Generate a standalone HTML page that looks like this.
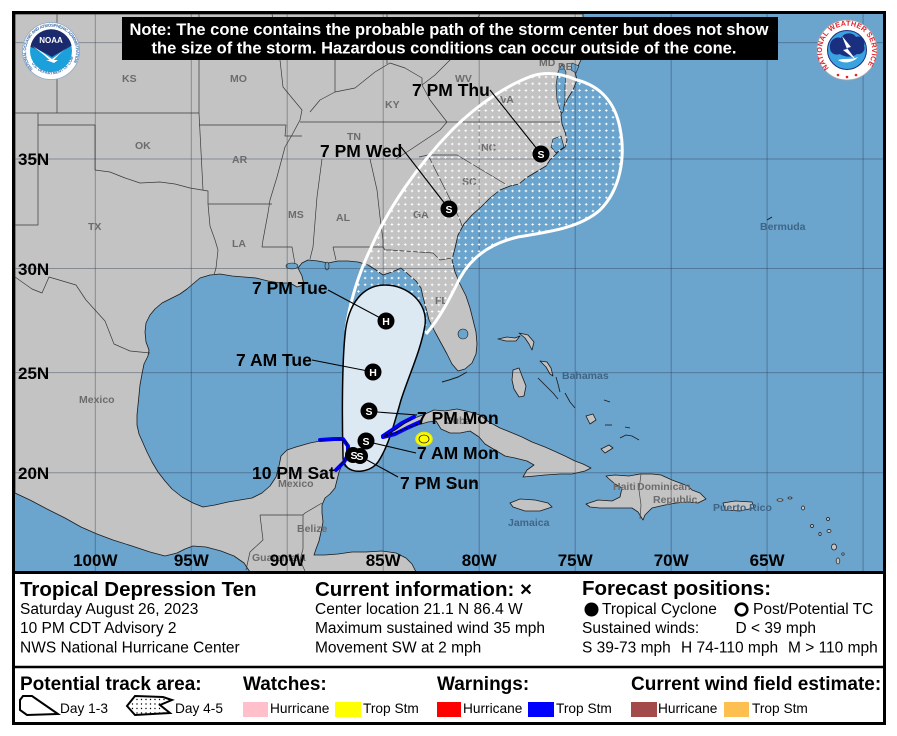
<!DOCTYPE html>
<html><head><meta charset="utf-8"><style>
html,body{margin:0;padding:0;background:#fff;}
svg{display:block;}
text{font-family:"Liberation Sans",Arial,sans-serif;}
</style></head><body>
<svg width="897" height="736" viewBox="0 0 897 736" xmlns="http://www.w3.org/2000/svg">
<defs>
<clipPath id="mapclip"><rect x="15" y="14" width="868" height="557"/></clipPath>
<pattern id="dots" width="6.7" height="6.7" patternUnits="userSpaceOnUse">
<path d="M3.35 2.1v2.5M2.1 3.35h2.5" stroke="#fff" stroke-width="0.9"/>
</pattern>
<pattern id="ldots" width="4.5" height="4.5" patternUnits="userSpaceOnUse">
<circle cx="2" cy="2" r="0.7" fill="#000"/>
</pattern>
</defs>
<rect width="897" height="736" fill="#fff"/>
<g clip-path="url(#mapclip)">
<rect x="15" y="14" width="868" height="557" fill="#6ba4cd"/>
<!-- North America -->
<path fill="#c3c3c3" stroke="#1a1a1a" stroke-width="0.8" stroke-linejoin="round" d="M15,14 L583,14 L583,30 L581,45 L582,58 L578,66 L575,72 L577,80 L573,90 L568,98 L563,108 L561,115 L562,124 L565,132 L567,140 L565,147 L558,152 L550,160 L546,166 L536,172 L526,178 L519,184 L510,186 L500,190 L490,198 L481,207 L472,215 L464,224 L458,235 L455,248 L452,260 L455,272 L460,284 L466,296 L470,308 L473,320 L476,332 L477,344 L476,354 L472,363 L465,369 L458,371 L452,364 L447,354 L441,343 L435,332 L429,320 L426,308 L423,297 L421,288 L416,281 L408,274 L401,268 L392,272 L383,275 L376,270 L368,265 L358,262 L348,261 L338,261 L328,263 L318,261 L308,260 L302,263 L298,268 L302,276 L304,285 L297,287 L290,283 L280,283 L268,281 L256,278 L244,277 L232,276 L220,274 L210,275 L200,278 L194,283 L187,289 L180,294 L170,299 L162,303 L155,309 L150,315 L146,323 L145,332 L146,342 L149,350 L148,356 L144,364 L142,374 L140,385 L139,395 L138,405 L137,415 L137,425 L139,434 L143,443 L147,452 L152,462 L158,472 L165,481 L172,489 L182,497 L193,503 L203,507 L215,505 L228,502 L240,500 L252,498 L262,493 L270,486 L276,477 L279,466 L281,456 L287,450 L296,447 L310,443 L325,440 L340,439 L346,442 L350,450 L347,458 L342,465 L339,472 L337,480 L335,488 L330,494 L325,498 L322,505 L322,513 L323,522 L321,532 L319,541 L316,549 L314,555 L325,555 L338,554 L352,552 L366,552 L382,551 L396,553 L406,558 L412,564 L416,572 L250,572 L244,563 L234,556 L221,551 L206,547 L193,546 L185,549 L177,553 L165,556 L150,552 L132,546 L113,540 L97,534 L81,527 L65,518 L47,509 L30,500 L15,493 Z"/>
<!-- bays/lakes -->
<g fill="#6ba4cd" stroke="#1a1a1a" stroke-width="0.6">
<path d="M561,113 L557,100 L556,86 L558,72 L562,64 L566,72 L565,86 L565,100 L563,112 Z"/>
<path d="M572,63 L579,66 L576,73 L571,70 Z"/>
<path d="M553,139 L561,136 L564,147 L556,153 L551,147 Z"/>
<ellipse cx="463" cy="334" rx="5" ry="5"/>
<ellipse cx="292" cy="266" rx="6" ry="3"/>
<ellipse cx="327" cy="266" rx="2" ry="4"/>
</g>
<!-- Florida keys -->
<path d="M467,372 L458,377 L449,380 L442,382" fill="none" stroke="#1a1a1a" stroke-width="1"/>
<ellipse cx="346" cy="463" rx="2" ry="4" fill="#c3c3c3" stroke="#1a1a1a" stroke-width="0.6"/>
<!-- Cuba -->
<path fill="#c3c3c3" stroke="#1a1a1a" stroke-width="0.8" stroke-linejoin="round" d="M384,436 L395,430 L405,423 L412,419 L425,414 L434,410 L445,411 L457,409 L470,412 L480,415 L489,422 L500,428 L510,432 L522,437 L532,442 L545,447 L554,451 L565,456 L575,461 L583,464 L591,468 L585,471 L572,474 L560,474 L545,475 L535,476 L523,477 L527,470 L534,465 L527,461 L515,458 L505,456 L495,450 L485,444 L479,437 L470,431 L460,433 L450,433 L441,429 L436,421 L428,422 L418,425 L405,430 L393,435 Z"/>
<!-- Hispaniola -->
<path fill="#c3c3c3" stroke="#1a1a1a" stroke-width="0.8" stroke-linejoin="round" d="M586,504 L598,500 L612,501 L620,497 L622,488 L615,484 L608,478 L606,476 L615,475 L629,476 L640,474 L652,474 L661,475 L672,480 L688,486 L692,490 L700,493 L706,499 L698,503 L688,502 L676,503 L665,505 L652,508 L645,515 L643,520 L638,512 L632,508 L623,508 L612,508 L600,508 L590,507 Z"/>
<path d="M641,474 L639,490 L641,505 L640,519" fill="none" stroke="#444" stroke-width="0.7"/>
<!-- Jamaica -->
<path fill="#c3c3c3" stroke="#1a1a1a" stroke-width="0.8" d="M510,503 L520,499 L535,500 L548,503 L552,507 L540,511 L525,511 L513,507 Z"/>
<!-- Puerto Rico -->
<path fill="#c3c3c3" stroke="#1a1a1a" stroke-width="0.8" d="M723,503 L735,501 L752,502 L754,508 L740,511 L725,510 Z"/>
<!-- Bahamas -->
<g fill="#c3c3c3" stroke="#1a1a1a" stroke-width="0.8" stroke-linejoin="round">
<path d="M498,339 L507,337 L515,338 L520,336 L516,341 L506,341 Z"/>
<path d="M519,333 L528,335 L534,342 L532,350 L529,344 L525,338 Z"/>
<path d="M513,370 L519,368 L522,376 L526,386 L524,396 L519,397 L514,389 L512,380 Z"/>
<path d="M540,361 L547,362 L551,368 L553,376 L550,374 L546,367 Z"/>
<path d="M586,416 L593,414 L596,420 L590,424 Z"/>
<path d="M601,449 L609,445 L613,448 L605,453 Z"/>
<path d="M538,378 L546,386 L553,393 L558,399" fill="none"/>
<path d="M556,377 L558,384 L560,392" fill="none"/>
<path d="M565,393 L570,402 L575,408" fill="none"/>
<path d="M605,425 L612,425" fill="none"/>
<path d="M620,438 L626,435 L632,436 L639,440" fill="none"/>
<path d="M604,400 L610,402" fill="none"/>
<path d="M625,427 L630,428" fill="none"/>
</g>
<g fill="#c3c3c3" stroke="#1a1a1a" stroke-width="0.7">
<ellipse cx="780" cy="500" rx="3" ry="1.2"/><ellipse cx="790" cy="498" rx="2" ry="1"/>
<ellipse cx="803" cy="508" rx="1.5" ry="2"/><ellipse cx="812" cy="526" rx="1.5" ry="1.5"/>
<ellipse cx="820" cy="534" rx="1.2" ry="1.5"/><ellipse cx="828" cy="519" rx="1.5" ry="1.5"/>
<ellipse cx="829" cy="531" rx="2" ry="1.5"/><ellipse cx="834" cy="547" rx="2.5" ry="3"/>
<ellipse cx="838" cy="561" rx="1.8" ry="3"/><ellipse cx="843" cy="554" rx="1.2" ry="1.2"/>
<ellipse cx="454" cy="486" rx="2" ry="0.8"/><ellipse cx="474" cy="482" rx="1.5" ry="0.7"/>
</g>
<path d="M767,220 L772,217" stroke="#1a1a1a" stroke-width="1"/>
<!-- state / national borders -->
<g fill="none" stroke="#3a3a3a" stroke-width="0.7" stroke-linejoin="round">
<path d="M57,14 L57,113 M15,113 L199,113 M38,113 L38,225 L15,225 M38,125 L95,125 L95,170"/>
<path d="M95,170 L110,172 L125,178 L140,183 L160,182 L175,184 L190,188 L208,191 L208,204 L210,226 L215,240 L218,250 L216,268 L214,275"/>
<path d="M199,14 L199,113 L203,190 M208,204 L272,204"/>
<path d="M199,125 L286,125 L285,136 L302,136"/>
<path d="M272,14 L280,60 L283,87 L302,110 L300,120 L292,135 L285,147 L277,177 L270,200 L268,213 L263,240 L262,247 L292,247 L295,264"/>
<path d="M300,122 L447,122 L560,122"/>
<path d="M396,159 L410,150 L425,140 L440,130 L447,122 L440,113 L430,100 L422,85"/>
<path d="M310,112 L320,100 L335,92 L355,88 L375,72 L390,63 L405,68 L422,78 L422,85"/>
<path d="M335,14 L335,92 M387,14 L387,64"/>
<path d="M480,14 L470,30 L460,45 L450,60 L435,75 L422,85 M500,30 L520,40 L545,55"/>
<path d="M419,157 L428,155 L457,155 L477,167 L507,185"/>
<path d="M428,155 L437,173 L447,193 L460,220 L462,226"/>
<path d="M370,159 L377,190 L380,217 L383,240 L383,247 L385,250 L390,250 L433,253 L440,260 L452,258"/>
<path d="M322,159 L317,197 L313,247 L310,259 M333,247 L383,247 M333,247 L336,260"/>
<path d="M15,277 L32,289 L42,293 L49,277 L76,285 L86,300 L105,321 L114,344 L130,351 L150,353"/>
<path d="M260,515 L303,515 L303,549 M260,515 L263,540 L250,552 L246,570 M303,515 L305,513 L322,503 M303,549 L300,560 L305,571"/>
</g>
<!-- grid -->
<g stroke="#28384a" stroke-opacity="0.4" stroke-width="1">
<path d="M95.3,14V571M191.3,14V571M287.2,14V571M383.2,14V571M479.2,14V571M575.2,14V571M671.2,14V571M767.1,14V571M863.1,14V571"/>
<path d="M15,42.6H883M15,159H883M15,268.5H883M15,372.6H883M15,472.7H883"/>
</g>
<!-- place labels -->
<g font-size="10.5" font-weight="bold" fill="#6c6c6c">
<text x="122" y="82">KS</text><text x="230" y="82">MO</text><text x="135" y="149">OK</text>
<text x="232" y="163">AR</text><text x="88" y="230">TX</text><text x="232" y="247">LA</text>
<text x="288" y="218">MS</text><text x="336" y="221">AL</text><text x="413" y="218">GA</text>
<text x="347" y="140">TN</text><text x="385" y="108">KY</text><text x="455" y="82">WV</text>
<text x="500" y="103">VA</text><text x="481" y="151">NC</text><text x="462" y="185">SC</text>
<text x="435" y="304">FL</text><text x="539" y="66">MD</text><text x="558" y="70">DE</text>
<text x="79" y="403">Mexico</text><text x="278" y="487">Mexico</text><text x="297" y="532">Belize</text>
<text x="252" y="561">Guatemala</text><text x="445" y="424">Cuba</text>
<text x="613" y="490">Haiti</text><text x="637" y="490">Dominican</text><text x="653" y="503">Republic</text>
</g>
<g font-size="10.5" font-weight="bold" fill="#3f6586">
<text x="562" y="379">Bahamas</text><text x="760" y="230">Bermuda</text><text x="508" y="526">Jamaica</text>
<text x="713" y="511">Puerto Rico</text>
</g>
<!-- Day 4-5 cone -->
<path fill="url(#dots)" d="M346,330 C349,305 358,275 370,250 C388,208 418,165 452,130 C480,102 510,84 532,76 C548,71 563,74 577,80 C600,86 615,102 620,128 C626,158 620,190 600,210 C580,228 548,232 518,237 C492,243 472,256 460,278 C450,298 440,318 426,334 Z"/>
<path fill="none" stroke="#fff" stroke-width="3" d="M346,330 C349,305 358,275 370,250 C388,208 418,165 452,130 C480,102 510,84 532,76 C548,71 563,74 577,80 C600,86 615,102 620,128 C626,158 620,190 600,210 C580,228 548,232 518,237 C492,243 472,256 460,278 C450,298 440,318 426,334"/>
<!-- Day 1-3 cone -->
<path fill="#dce9f3" stroke="#000" stroke-width="1.5" d="M343,455 C342,420 342,365 345,335 C348,302 364,285 385,285 C408,285 428,303 425,325 C421,350 409,375 401,400 C394,425 388,447 378,462 C370,473 352,474 346,466 C343,462 343,459 343,455 Z"/>
<!-- warnings -->
<g fill="none" stroke="#0000ff" stroke-width="4" stroke-linejoin="round" stroke-linecap="round">
<path d="M320,440 L334,439 L343,439 L348,446 L348,455 L344,462 L336,470"/>
<path d="M383,436 L392,430 L402,423 L414,417"/>
<path d="M383,437 L395,434 L407,428 L420,422"/>
</g>
<path d="M320,440 L340,439 L346,442 L349,450 L346,458 L340,466" fill="none" stroke="#000" stroke-width="0.8"/>
<path d="M384,436 L395,430 L405,423 L412,419 M384,437 L395,433 L407,428 L418,424" fill="none" stroke="#000" stroke-width="0.8"/>
<ellipse cx="424" cy="439" rx="8" ry="6.5" fill="#ffff00" stroke="#f0f000" stroke-width="1.5"/>
<ellipse cx="424" cy="439" rx="5" ry="4" fill="none" stroke="#222" stroke-width="0.8"/>
<!-- leader lines -->
<g stroke="#000" stroke-width="1.1" fill="none">
<path d="M490,90 L541,154"/><path d="M401,147 L449,209"/>
<path d="M328,290 L386,321"/><path d="M312,360 L373,372"/>
<path d="M377,412 L417,415"/><path d="M373,443 L416,453"/>
<path d="M367,460 L398,477"/>
</g>
<!-- markers -->
<g fill="#000">
<circle cx="541" cy="154" r="8.5"/><circle cx="449" cy="209" r="8.5"/>
<circle cx="386" cy="321" r="8.5"/><circle cx="373" cy="372" r="8.5"/>
<circle cx="369" cy="411" r="8.5"/><circle cx="366" cy="441" r="8.5"/>
<circle cx="353" cy="455" r="8"/><circle cx="360" cy="456" r="8"/>
</g>
<g fill="#fff" font-size="10.5" font-weight="bold" text-anchor="middle">
<text x="541" y="158">S</text><text x="449" y="213">S</text>
<text x="386" y="325">H</text><text x="373" y="376">H</text>
<text x="369" y="415">S</text><text x="366" y="445">S</text>
<text x="354" y="459">S</text><text x="360" y="460">S</text>
</g>
<!-- forecast labels -->
<g font-size="17.5" font-weight="bold" fill="#000">
<text x="412" y="96">7 PM Thu</text>
<text x="320" y="157">7 PM Wed</text>
<text x="252" y="294">7 PM Tue</text>
<text x="236" y="366">7 AM Tue</text>
<text x="417" y="424">7 PM Mon</text>
<text x="417" y="459">7 AM Mon</text>
<text x="400" y="489">7 PM Sun</text>
<text x="252" y="479">10 PM Sat</text>
</g>
<!-- lat/lon labels -->
<g font-size="17" font-weight="bold" fill="#000">
<text x="18" y="165">35N</text><text x="18" y="275">30N</text>
<text x="18" y="379">25N</text><text x="18" y="479">20N</text>
</g>
<g font-size="17" font-weight="bold" fill="#000" text-anchor="middle">
<text x="95.3" y="566">100W</text><text x="191.3" y="566">95W</text><text x="287.2" y="566">90W</text>
<text x="383.2" y="566">85W</text><text x="479.2" y="566">80W</text><text x="575.2" y="566">75W</text>
<text x="671.2" y="566">70W</text><text x="767.1" y="566">65W</text>
</g>
</g>
<!-- note box -->
<rect x="122" y="17" width="656" height="43" fill="#000"/>
<g font-size="16.5" font-weight="bold" fill="#fff" text-anchor="middle">
<text x="449" y="35">Note: The cone contains the probable path of the storm center but does not show</text>
<text x="444" y="53.5">the size of the storm. Hazardous conditions can occur outside of the cone.</text>
</g>
<!-- NOAA logo -->
<g>
<circle cx="51" cy="51" r="28.5" fill="#fff" stroke="#8fa8c8" stroke-width="0.8"/>
<path id="noaaring" d="M33,69 A25,25 0 1 1 69,69" fill="none"/>
<text font-size="4.2" font-weight="bold" fill="#3d6ea8"><textPath href="#noaaring" textLength="108" lengthAdjust="spacing">NATIONAL OCEANIC AND ATMOSPHERIC ADMINISTRATION</textPath></text>
<path id="noaaring2" d="M29,58 A23,23 0 0 0 73,58" fill="none"/>
<text font-size="4" font-weight="bold" fill="#3d6ea8"><textPath href="#noaaring2" startOffset="6">U.S. DEPARTMENT OF COMMERCE</textPath></text>
<circle cx="51" cy="51" r="21" fill="#1ca0dc"/>
<path d="M30.4,47 A21,21 0 0 1 71.6,45.5 C65,50 58,53 52,57 C45,53 38,49 30.4,47 Z" fill="#1b2a6d"/>
<path d="M32,46 C40,50 46,55 52,59 C58,55 64,50 70,44 C64,50 58,55 52,62 C46,57 40,51 32,46 Z" fill="#fff"/>
<path d="M46,60 L58,60 L54,63 Z" fill="#fff"/>
<text x="51" y="43" font-size="8" font-weight="bold" fill="#fff" text-anchor="middle">NOAA</text>
</g>
<!-- NWS logo -->
<g>
<circle cx="847" cy="50" r="30" fill="#fff" stroke="#aaa" stroke-width="0.8"/>
<path id="nwsring" d="M829,68 A25,25 0 1 1 865,68" fill="none"/>
<text font-size="7.2" font-weight="bold" fill="#e4222c"><textPath href="#nwsring" textLength="112" lengthAdjust="spacing">NATIONAL WEATHER SERVICE</textPath></text>
<circle cx="847" cy="50" r="19.5" fill="#3aa3df" stroke="#1b2f80" stroke-width="1"/>
<path d="M830,48 C829,40 836,36 841,38 C844,32 853,32 856,37 C861,35 866,40 864,46 C866,50 862,55 857,54 C852,58 844,57 840,54 C835,56 830,53 830,48 Z" fill="#1b2f80"/>
<path d="M838,60 C845,58 852,60 858,57 C853,63 843,64 838,60 Z" fill="#fff"/>
<path d="M842,36 L851,47 L847,48 L856,60 L843,50 L847,49 Z" fill="#fff"/>
<g fill="#e4222c"><circle cx="838" cy="75" r="1.3"/><circle cx="847" cy="77" r="1.3"/><circle cx="856" cy="75" r="1.3"/></g>
</g>
<!-- frame -->
<rect x="13.5" y="12.5" width="871" height="711" fill="none" stroke="#000" stroke-width="3"/>
<line x1="12" y1="572.5" x2="886" y2="572.5" stroke="#000" stroke-width="3"/>
<line x1="12" y1="667" x2="886" y2="667" stroke="#000" stroke-width="2.5"/>
<!-- info panel -->
<g fill="#000">
<text x="20" y="596" font-size="20.5" font-weight="bold">Tropical Depression Ten</text>
<text x="20" y="614" font-size="15.5">Saturday August 26, 2023</text>
<text x="20" y="633" font-size="15.5">10 PM CDT Advisory 2</text>
<text x="20" y="652.5" font-size="15.5">NWS National Hurricane Center</text>
<text x="315" y="596" font-size="20.5" font-weight="bold">Current information: ×</text>
<text x="315" y="614" font-size="15.5">Center location 21.1 N 86.4 W</text>
<text x="315" y="633" font-size="15.5">Maximum sustained wind 35 mph</text>
<text x="315" y="652.5" font-size="15.5">Movement SW at 2 mph</text>
<text x="582" y="595" font-size="20.5" font-weight="bold">Forecast positions:</text>
<circle cx="591.5" cy="609.5" r="7"/>
<text x="602" y="614" font-size="15.5">Tropical Cyclone</text>
<circle cx="741.5" cy="609.5" r="5.8" fill="#fff" stroke="#000" stroke-width="2.6"/>
<text x="753" y="614" font-size="15.5">Post/Potential TC</text>
<text x="582" y="633" font-size="15.5">Sustained winds:</text>
<text x="735.5" y="633" font-size="15.5">D &lt; 39 mph</text>
<text x="582" y="652.5" font-size="15.5">S 39-73 mph</text>
<text x="681" y="652.5" font-size="15.5">H 74-110 mph</text>
<text x="788" y="652.5" font-size="15.5">M &gt; 110 mph</text>
</g>
<!-- legend -->
<g fill="#000">
<text x="20" y="690" font-size="19" font-weight="bold">Potential track area:</text>
<path d="M23,696 L32,696 L58,714 L27,715 L20,710 L20,700 Z" fill="#fff" stroke="#000" stroke-width="2"/>
<text x="60" y="713" font-size="13.7">Day 1-3</text>
<path d="M135,696 L163,697 L172,700 L160,705 L170,713 L135,715 L127,706 Z" fill="url(#ldots)" stroke="#000" stroke-width="2"/>
<text x="175" y="713" font-size="13.7">Day 4-5</text>
<text x="243" y="690" font-size="19" font-weight="bold">Watches:</text>
<rect x="243" y="702" width="25" height="15" fill="#ffc0cb"/>
<text x="270" y="713" font-size="13.7">Hurricane</text>
<rect x="335" y="702" width="26" height="15" fill="#ffff00"/>
<text x="363" y="713" font-size="13.7">Trop Stm</text>
<text x="437" y="690" font-size="19" font-weight="bold">Warnings:</text>
<rect x="437" y="702" width="24" height="15" fill="#ff0000"/>
<text x="463" y="713" font-size="13.7">Hurricane</text>
<rect x="528" y="702" width="26" height="15" fill="#0000ff"/>
<text x="556" y="713" font-size="13.7">Trop Stm</text>
<text x="631" y="690" font-size="19" font-weight="bold">Current wind field estimate:</text>
<rect x="631" y="702" width="26" height="15" fill="#a34b4b"/>
<text x="658" y="713" font-size="13.7">Hurricane</text>
<rect x="724" y="702" width="25" height="15" fill="#fdbf50"/>
<text x="752" y="713" font-size="13.7">Trop Stm</text>
</g>
</svg>
</body></html>
